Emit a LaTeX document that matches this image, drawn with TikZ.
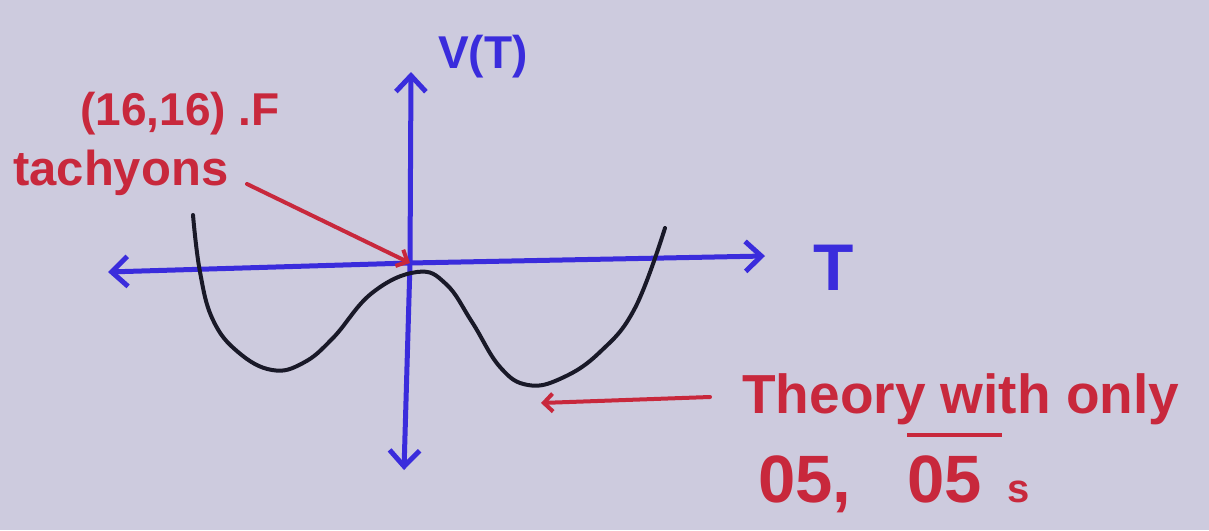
\documentclass[tikz,border=0pt]{standalone}
\usepackage{fontspec}
\setmainfont{Liberation Sans}
\usetikzlibrary{arrows.meta}
\definecolor{bg}{RGB}{205,203,222}
\definecolor{penblue}{RGB}{58,44,220}
\definecolor{penred}{RGB}{200,40,60}
\definecolor{penblack}{RGB}{25,25,40}
\tikzset{
  axis/.style={draw=penblue, line width=5pt, line cap=round, -{Straight Barb[length=16pt,width=30pt,line width=5pt]}},
  redarrow/.style={draw=penred, line width=4pt, line cap=round, -{Straight Barb[length=9pt,width=18pt,line width=4pt]}},
  bluetext/.style={text=penblue, inner sep=0pt, anchor=base west},
  redtext/.style={text=penred, inner sep=0pt, anchor=base west},
}
\begin{document}
\begin{tikzpicture}[x=1pt,y=-1pt]
\fill[bg] (0,0) rectangle (1209,530);
\useasboundingbox (0,0) rectangle (1209,530);
% axes
\coordinate (o) at (410,263);
\coordinate (ytop) at (411,72);
\coordinate (ybot) at (404,470);
\coordinate (xl) at (108,272);
\coordinate (xr) at (765,256);
\draw[axis] (o) -- (ytop);
\draw[axis] (o) -- (ybot);
\draw[axis] (o) -- (xl);
\draw[axis] (o) -- (xr);
\node[bluetext, font=\bfseries\fontsize{46}{46}\selectfont] (vt) at (438,68) {V(T)};
\node[bluetext, font=\bfseries\fontsize{66}{66}\selectfont] (tl) at (813,290) {T};
% potential curve
\draw[penblack, line width=4pt, line cap=round]
  plot[smooth, tension=0.7] coordinates {(193,215) (200,272) (213,320) (238,352) (272,370) (303,363) (333,338) (372,293) (417,272) (446,284) (472,322) (500,367) (528,385) (562,378) (600,352) (635,308) (665,228)};
% labels
\node[redtext, font=\bfseries\fontsize{46}{46}\selectfont] (sixteen) at (80,125) {(16,16) .F};
\node[redtext, font=\bfseries\fontsize{49}{49}\selectfont] (tach) at (13,185) {tachyons};
\coordinate (tachstart) at (247,184);
\draw[redarrow] (tachstart) -- (o);
\node[redtext, font=\bfseries\fontsize{55}{55}\selectfont] (theory) at (742,413) {Theory with only};
\coordinate (theorystart) at (710,397);
\coordinate (theoryend) at (541,403);
\draw[redarrow] (theorystart) -- (theoryend);
\node[redtext, font=\bfseries\fontsize{67}{67}\selectfont] (os) at (758,502) {05,\hspace{56pt}\rlap{\raisebox{65pt}{\rule{95pt}{4pt}}}05\hspace{26pt}{\fontsize{40}{40}\selectfont s}};
\end{tikzpicture}
\end{document}
